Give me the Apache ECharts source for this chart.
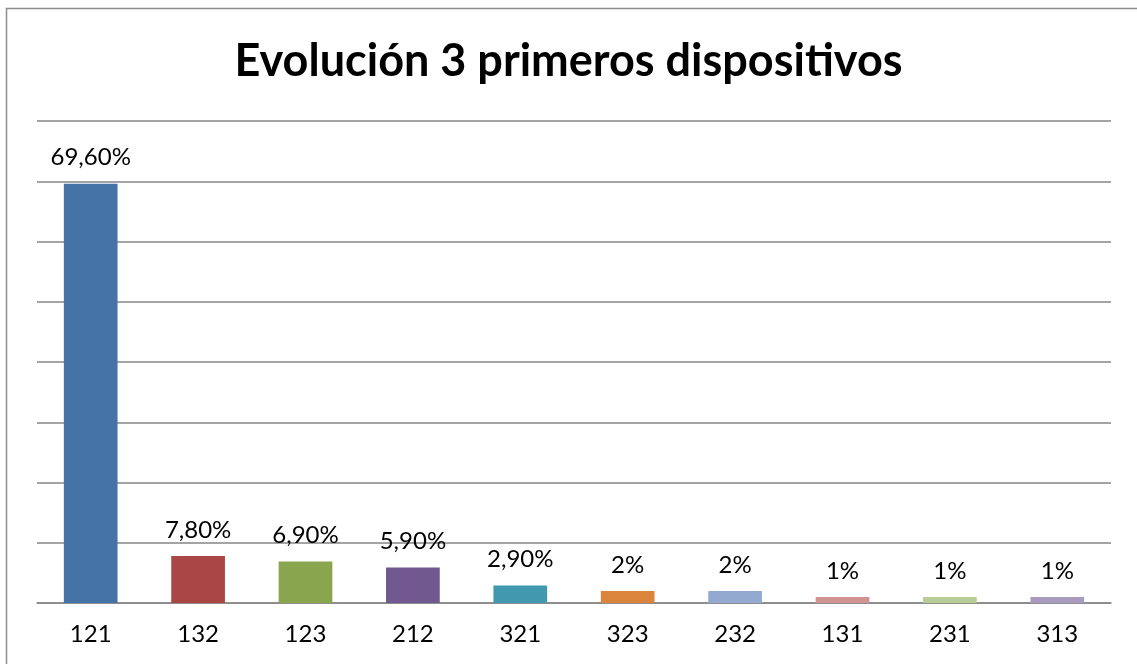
<!DOCTYPE html>
<html>
<head>
<meta charset="utf-8">
<script src="https://cdn.jsdelivr.net/npm/echarts@6/dist/echarts.min.js"></script>
<style>
  html, body { margin: 0; padding: 0; background: #fff; }
  #chart { width: 1137px; height: 664px; }
</style>
</head>
<body>
<div id="chart"></div>
<script>
const categories = ['121', '132', '123', '212', '321', '323', '232', '131', '231', '313']
const values = [69.6, 7.8, 6.9, 5.9, 2.9, 2, 2, 1, 1, 1]
const valueLabels = ['69,60%', '7,80%', '6,90%', '5,90%', '2,90%', '2%', '2%', '1%', '1%', '1%']
const barColors = ['#4572A7', '#AA4643', '#89A54E', '#71588F', '#4198AF', '#DB843D', '#93A9CF', '#D19392', '#B9CD96', '#A99BBD']

const font = 'Lato, "Open Sans", sans-serif'
let chart = echarts.init(document.getElementById('chart'))

let option = {
  animation: false,
  graphic: [
    {
      type: 'rect',
      shape: { x: 6.5, y: 8.5, width: 1140, height: 670 },
      style: { fill: 'none', stroke: '#8c8c8c', lineWidth: 1.5 },
      silent: true
    }
  ],
  title: {
    text: 'Evolución 3 primeros dispositivos',
    left: 'center',
    top: 34,
    textStyle: { fontFamily: font, fontSize: 45, fontWeight: 'bold', color: '#000' }
  },
  grid: { left: 37, right: 26, top: 121, bottom: 61 },
  xAxis: {
    type: 'category',
    data: categories,
    axisLine: { lineStyle: { color: '#868686', width: 1.5 } },
    axisTick: { length: 8, lineStyle: { color: '#868686', width: 1.5 } },
    axisLabel: { fontFamily: font, fontSize: 24, color: '#000', margin: 19 }
  },
  yAxis: {
    type: 'value',
    min: 0,
    max: 80,
    interval: 10,
    axisLabel: { show: false },
    axisLine: { show: false },
    axisTick: { show: false },
    splitLine: { lineStyle: { color: '#868686', width: 1.5 } }
  },
  series: [
    {
      type: 'bar',
      barWidth: '50%',
      data: values.map((v, i) => ({ value: v, itemStyle: { color: barColors[i] } })),
      label: {
        show: true,
        position: 'top',
        distance: 14,
        fontFamily: font,
        fontSize: 24,
        color: '#000',
        formatter: (p) => valueLabels[p.dataIndex]
      }
    }
  ]
}
chart.setOption(option)
</script>
</body>
</html>
